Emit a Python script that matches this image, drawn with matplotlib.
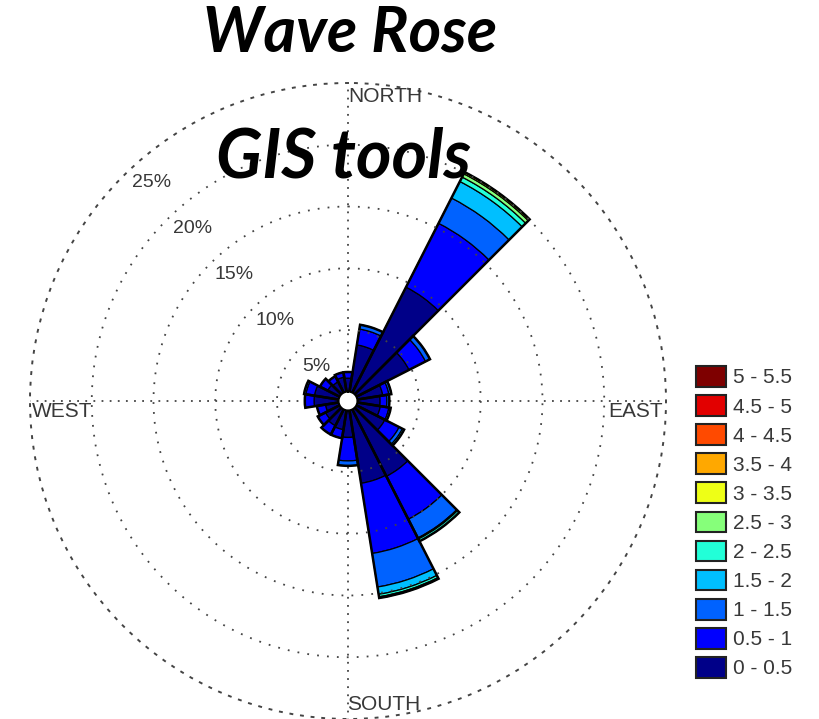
import numpy as np
import matplotlib
matplotlib.use('Agg')
import matplotlib.pyplot as plt
from matplotlib.patches import Patch

# ---------------- data ----------------
directions = [0, 18, 36, 54, 72, 90, 108, 126, 144, 162,
              180, 198, 216, 234, 252, 270, 288, 306, 324, 342]   # bin centres (deg)
bin_width = 18
speed_labels = ['0 - 0.5', '0.5 - 1', '1 - 1.5', '1.5 - 2', '2 - 2.5', '2.5 - 3',
                '3 - 3.5', '3.5 - 4', '4 - 4.5', '4.5 - 5', '5 - 5.5']
speed_colors = ['#000088', '#0000FF', '#0062FF', '#00BFFF', '#22FFD8', '#86FF7A',
                '#EEFF16', '#FFA800', '#FF4A00', '#E20000', '#7E0000']

# frequency (%) of each speed class for each direction
f_00_05 = [1.1, 3.85, 9.6, 4.8, 2.1, 1.85, 1.9, 2.6, 6.1, 6.0,
           2.2, 1.6, 1.5, 1.3, 1.1, 2.0, 2.0, 1.1, 1.0, 1.2]
f_05_10 = [0.5, 1.3, 5.8, 1.5, 0.5, 0.55, 0.7, 1.3, 3.9, 5.75,
           1.9, 0.7, 0.8, 0.7, 0.7, 0.75, 0.7, 0.7, 0.5, 0.4]
f_10_15 = [0, 0.35, 2.3, 0.4, 0.2, 0.2, 0.15, 0.3, 1.7, 2.75,
           0.4, 0, 0, 0, 0, 0, 0.15, 0, 0, 0]
f_15_20 = [0, 0, 1.5, 0, 0, 0, 0, 0.15, 0.1, 0.6,
           0, 0, 0, 0, 0, 0, 0, 0, 0, 0]
f_20_25 = [0, 0, 0.4, 0, 0, 0, 0, 0, 0.2, 0.2,
           0, 0, 0, 0, 0, 0, 0, 0, 0, 0]
f_25_30 = [0, 0, 0.3, 0, 0, 0, 0, 0, 0, 0.1,
           0, 0, 0, 0, 0, 0, 0, 0, 0, 0]
f_30_35 = [0, 0, 0.15, 0, 0, 0, 0, 0, 0, 0,
           0, 0, 0, 0, 0, 0, 0, 0, 0, 0]
f_35_40 = [0] * 20
f_40_45 = [0] * 20
f_45_50 = [0] * 20
f_50_55 = [0] * 20

rings = [5, 10, 15, 20, 25]
ring_labels = ['5%', '10%', '15%', '20%', '25%']
compass = ['NORTH', 'EAST', 'SOUTH', 'WEST']

classes = [f_00_05, f_05_10, f_10_15, f_15_20, f_20_25, f_25_30,
           f_30_35, f_35_40, f_40_45, f_45_50, f_50_55]

# ---------------- figure ----------------
W, H = 820, 719
fig = plt.figure(figsize=(W / 100, H / 100), dpi=100)
fig.patch.set_facecolor('white')

cx, cy, R = 348, 401, 318   # centre and outer radius in pixels
ax = fig.add_axes([(cx - R) / W, (H - cy - R) / H, 2 * R / W, 2 * R / H],
                  projection='polar')
ax.set_theta_zero_location('N')
ax.set_theta_direction(-1)
ax.set_ylim(0, rings[-1])
ax.set_rorigin(-0.75)
ax.set_axisbelow(True)

theta = np.radians(directions)
width = np.radians(bin_width)
bottom = np.zeros(len(directions))
for vals, col in zip(classes, speed_colors):
    vals = np.asarray(vals, dtype=float)
    m = vals > 0
    if m.any():
        ax.bar(theta[m], vals[m], width=width, bottom=bottom[m], color=col,
               edgecolor='black', linewidth=0.9, align='center', zorder=2)
    bottom += vals

# petal outlines
ax.bar(theta, bottom, width=width, bottom=0, fill=False,
       edgecolor='black', linewidth=1.8, align='center', zorder=3)

# grid styling
ax.set_thetagrids([0, 90, 180, 270], labels=[''] * 4)
ax.set_yticks([])
ax.xaxis.grid(True, linestyle=(0, (1, 3.5)), color='#444444', linewidth=1.3)
tt = np.linspace(0, 2 * np.pi, 400)
for r in rings[:-1]:
    ax.plot(tt, np.full_like(tt, r), linestyle=(0, (1, 4.5)), color='#444444',
            linewidth=1.3, zorder=4)
ax.spines['polar'].set_linestyle((0, (1, 4.5)))
ax.spines['polar'].set_color('#444444')
ax.spines['polar'].set_linewidth(1.4)
try:
    ax.spines['inner'].set_color('black')
    ax.spines['inner'].set_linewidth(1.2)
except KeyError:
    pass

# ring labels
for r, lab in zip(rings, ring_labels):
    ax.text(np.radians(318), r - 1.95, lab, ha='center', va='center',
            fontsize=14, color='#383838', family='Liberation Sans', zorder=6)

# compass labels (pixel positions)
def px(x, y):
    return x / W, 1 - y / H

tkw = dict(fontsize=15, color='#383838', family='Liberation Sans')
fig.text(*px(348, 87), compass[0], ha='left', va='top', **tkw)
fig.text(*px(608, 402), compass[1], ha='left', va='top', **tkw)
fig.text(*px(347, 695), compass[2], ha='left', va='top', **tkw)
fig.text(*px(92, 402), compass[3], ha='right', va='top', **tkw)

# titles
fig.text(*px(350, 52), 'Wave Rose', ha='center', va='baseline', fontsize=45,
         fontweight='bold', fontstyle='italic', family='Lato', color='black')
fig.text(*px(344, 177), 'GIS tools', ha='center', va='baseline', fontsize=49,
         fontweight='bold', fontstyle='italic', family='Lato', color='black')

# legend
handles = [Patch(facecolor=c, edgecolor='#222222', linewidth=1.5, label=l)
           for c, l in zip(speed_colors, speed_labels)][::-1]
fs = 15
fig.legend(handles=handles, loc='upper left', bbox_to_anchor=px(696, 366),
           frameon=False, prop={'family': 'Liberation Sans', 'size': fs},
           handlelength=1.45, handleheight=1.15, labelspacing=0.37,
           handletextpad=0.35, borderpad=0, borderaxespad=0, labelcolor='#383838')

fig.savefig('out.png', dpi=100)
